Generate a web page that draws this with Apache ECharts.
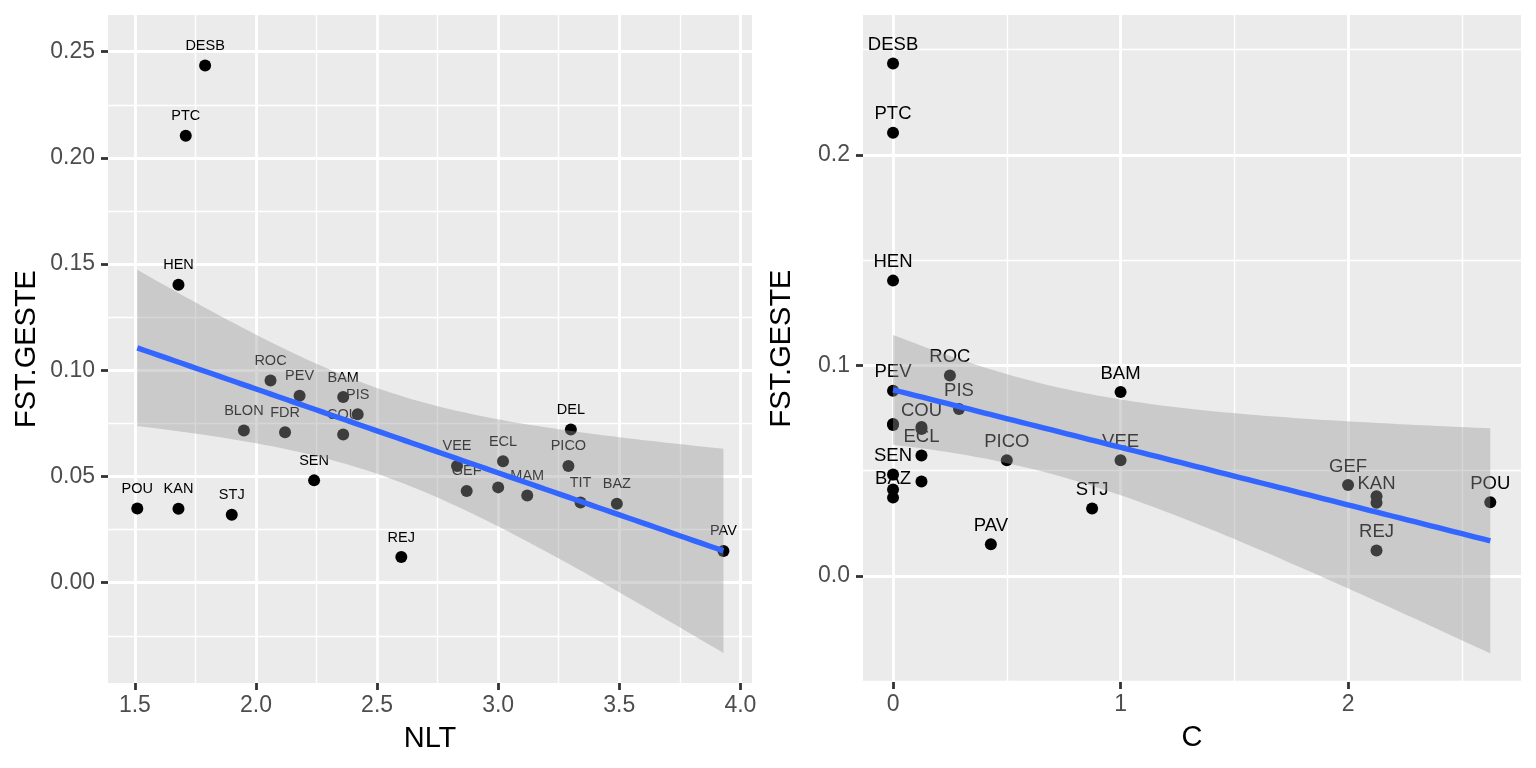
<!DOCTYPE html>
<html>
<head>
<meta charset="utf-8">
<script src="https://cdn.jsdelivr.net/npm/echarts@6/dist/echarts.min.js"></script>
<style>
  html, body { margin: 0; padding: 0; background: #fff; }
  #chart { width: 1536px; height: 768px; }
</style>
</head>
<body>
<div id="chart"></div>
<script>
// populations (the one called NA never gets a label in either panel)
const pops = ['DESB', 'PTC', 'HEN', 'ROC', 'PEV', 'BAM', 'PIS', 'DEL', 'BLON', 'FDR', 'COU', 'ECL', 'VEE',
    'PICO', 'SEN', 'NA', 'GEF', 'MAM', 'TIT', 'BAZ', 'POU', 'KAN', 'STJ', 'PAV', 'REJ'];
const nlt = [1.79, 1.71, 1.68, 2.06, 2.18, 2.36, 2.42, 3.30, 1.95, 2.12, 2.36, 3.02, 2.83,
    3.29, 2.24, 3.00, 2.87, 3.12, 3.34, 3.49, 1.51, 1.68, 1.90, 3.93, 2.60];
const cval = [0, 0, 0, 0.25, 0, 1, 0.29, 0, 0, 0.125, 0.125, 0.125, 1,
    0.5, 0, 0.125, 2, 0, 2.125, 0, 2.625, 2.125, 0.875, 0.43, 2.125];
const fst = [0.2435, 0.2105, 0.1403, 0.0952, 0.0880, 0.0874, 0.0793, 0.0722, 0.0717, 0.0708, 0.0698, 0.0572, 0.0550,
    0.0550, 0.0482, 0.0449, 0.0432, 0.0411, 0.0378, 0.0372, 0.0350, 0.0348, 0.0320, 0.0150, 0.0121];

const leftHidden = ['NA'];
const rightHidden = ['DEL', 'BLON', 'FDR', 'NA', 'MAM', 'TIT'];

const nltTicks = [1.5, 2.0, 2.5, 3.0, 3.5, 4.0];
const nltMinor = [1.75, 2.25, 2.75, 3.25, 3.75];
const cTicks = [0, 1, 2];
const cMinor = [0.5, 1.5, 2.5];
const fstTicksL = [0, 0.05, 0.10, 0.15, 0.20, 0.25];
const fstMinorL = [-0.025, 0.025, 0.075, 0.125, 0.175, 0.225];
const fstTicksR = [0, 0.1, 0.2];
const fstMinorR = [-0.05, 0.05, 0.15, 0.25];

// lm fit + 95% band, like geom_smooth(method = "lm")
const T975 = 2.0687; // qt(0.975, 23)
function lmBand (xs, ys) {
    const n = xs.length;
    const mx = xs.reduce((a, b) => a + b, 0) / n;
    const my = ys.reduce((a, b) => a + b, 0) / n;
    let sxx = 0, sxy = 0;
    for (let i = 0; i < n; i++) {
        sxx += (xs[i] - mx) * (xs[i] - mx);
        sxy += (xs[i] - mx) * (ys[i] - my);
    }
    const b = sxy / sxx;
    const a = my - b * mx;
    let sse = 0;
    for (let i = 0; i < n; i++) {
        const r = ys[i] - (a + b * xs[i]);
        sse += r * r;
    }
    const s = Math.sqrt(sse / (n - 2));
    const lo = Math.min(...xs), hi = Math.max(...xs);
    const fit = [], upper = [], lower = [];
    for (let k = 0; k < 80; k++) {
        const x = lo + (hi - lo) * k / 79;
        const yh = a + b * x;
        const se = s * Math.sqrt(1 / n + (x - mx) * (x - mx) / sxx);
        fit.push([x, yh]);
        upper.push([x, yh + T975 * se]);
        lower.push([x, yh - T975 * se]);
    }
    return { fit, upper, lower };
}

const bandL = lmBand(nlt, fst);
const bandR = lmBand(cval, fst);

const FONT = 'Liberation Sans, Arial, Helvetica, sans-serif';

function majorX (grid, min, max, name, ticks, digits) {
    return {
        type: 'value', gridIndex: grid, min: min, max: max, position: 'bottom',
        name: name, nameLocation: 'middle', nameGap: 41,
        nameTextStyle: { fontSize: 29, color: '#000', fontFamily: FONT },
        axisLine: { show: false, onZero: false },
        axisTick: { show: true, length: 7, customValues: ticks, lineStyle: { color: '#333', width: 2.8 } },
        axisLabel: { customValues: ticks, formatter: v => Number(v).toFixed(digits), fontSize: 23,
            color: '#4D4D4D', margin: 11, fontFamily: FONT },
        splitLine: { show: true, lineStyle: { color: '#fff', width: 2.8 } }
    };
}
function majorY (grid, min, max, ticks, digits) {
    return {
        type: 'value', gridIndex: grid, min: min, max: max, position: 'left',
        name: 'FST.GESTE', nameLocation: 'middle', nameGap: 67,
        nameTextStyle: { fontSize: 29, color: '#000', fontFamily: FONT },
        axisLine: { show: false, onZero: false },
        axisTick: { show: true, length: 7, customValues: ticks, lineStyle: { color: '#333', width: 2.8 } },
        axisLabel: { customValues: ticks, formatter: v => Number(v).toFixed(digits), fontSize: 23,
            color: '#4D4D4D', margin: 13, fontFamily: FONT },
        splitLine: { show: true, lineStyle: { color: '#fff', width: 2.8 } }
    };
}
function minorAxis (grid, min, max, ticks) {
    return {
        type: 'value', gridIndex: grid, min: min, max: max,
        axisLine: { show: false, onZero: false },
        axisTick: { show: false, customValues: ticks },
        axisLabel: { show: false },
        splitLine: { show: true, lineStyle: { color: '#fff', width: 1.4 } }
    };
}

function labelSeries (xi, yi, xs, hidden, size, dy) {
    const data = [];
    for (let i = 0; i < pops.length; i++) {
        if (hidden.indexOf(pops[i]) < 0) data.push({ name: pops[i], value: [xs[i], fst[i]] });
    }
    return {
        type: 'scatter', xAxisIndex: xi, yAxisIndex: yi, z: 1, silent: true,
        symbolSize: 0.1, itemStyle: { color: 'rgba(0,0,0,0)' },
        label: { show: true, position: 'inside', offset: [0, dy], formatter: '{b}',
            fontSize: size, color: '#000', opacity: 1, fontFamily: FONT },
        data: data
    };
}
function pointSeries (xi, yi, xs) {
    return {
        type: 'scatter', xAxisIndex: xi, yAxisIndex: yi, z: 2, silent: true,
        symbolSize: 12, itemStyle: { color: '#000', opacity: 1 },
        data: xs.map((x, i) => [x, fst[i]])
    };
}
function bandSeries (xi, yi, band) {
    return {
        type: 'custom', xAxisIndex: xi, yAxisIndex: yi, z: 3, silent: true,
        data: [band.upper[0]],
        renderItem: function (params, api) {
            const pts = band.upper.map(p => api.coord(p))
                .concat(band.lower.slice().reverse().map(p => api.coord(p)));
            return { type: 'polygon', shape: { points: pts }, style: { fill: 'rgba(153,153,153,0.4)' } };
        }
    };
}
function lineSeries (xi, yi, band) {
    return {
        type: 'line', xAxisIndex: xi, yAxisIndex: yi, z: 4, silent: true,
        symbol: 'none', lineStyle: { color: '#3366FF', width: 5.4 },
        data: band.fit
    };
}

const chart = echarts.init(document.getElementById('chart'));
chart.setOption({
    animation: false,
    backgroundColor: '#fff',
    grid: [
        { left: 108, top: 15, width: 644, height: 668, show: true, backgroundColor: '#EBEBEB', borderWidth: 0 },
        { left: 863, top: 15, width: 658, height: 667, show: true, backgroundColor: '#EBEBEB', borderWidth: 0 }
    ],
    xAxis: [
        majorX(0, 1.389, 4.048, 'NLT', nltTicks, 1),
        minorAxis(0, 1.389, 4.048, nltMinor),
        majorX(1, -0.132, 2.76, 'C', cTicks, 0),
        minorAxis(1, -0.132, 2.76, cMinor)
    ],
    yAxis: [
        majorY(0, -0.0472, 0.2673, fstTicksL, 2),
        minorAxis(0, -0.0472, 0.2673, fstMinorL),
        majorY(1, -0.0504, 0.2665, fstTicksR, 1),
        minorAxis(1, -0.0504, 0.2665, fstMinorR)
    ],
    series: [
        labelSeries(0, 0, nlt, leftHidden, 14.5, -19.5),
        pointSeries(0, 0, nlt),
        bandSeries(0, 0, bandL),
        lineSeries(0, 0, bandL),
        labelSeries(2, 2, cval, rightHidden, 18.5, -18.5),
        pointSeries(2, 2, cval),
        bandSeries(2, 2, bandR),
        lineSeries(2, 2, bandR)
    ]
});
</script>
</body>
</html>
